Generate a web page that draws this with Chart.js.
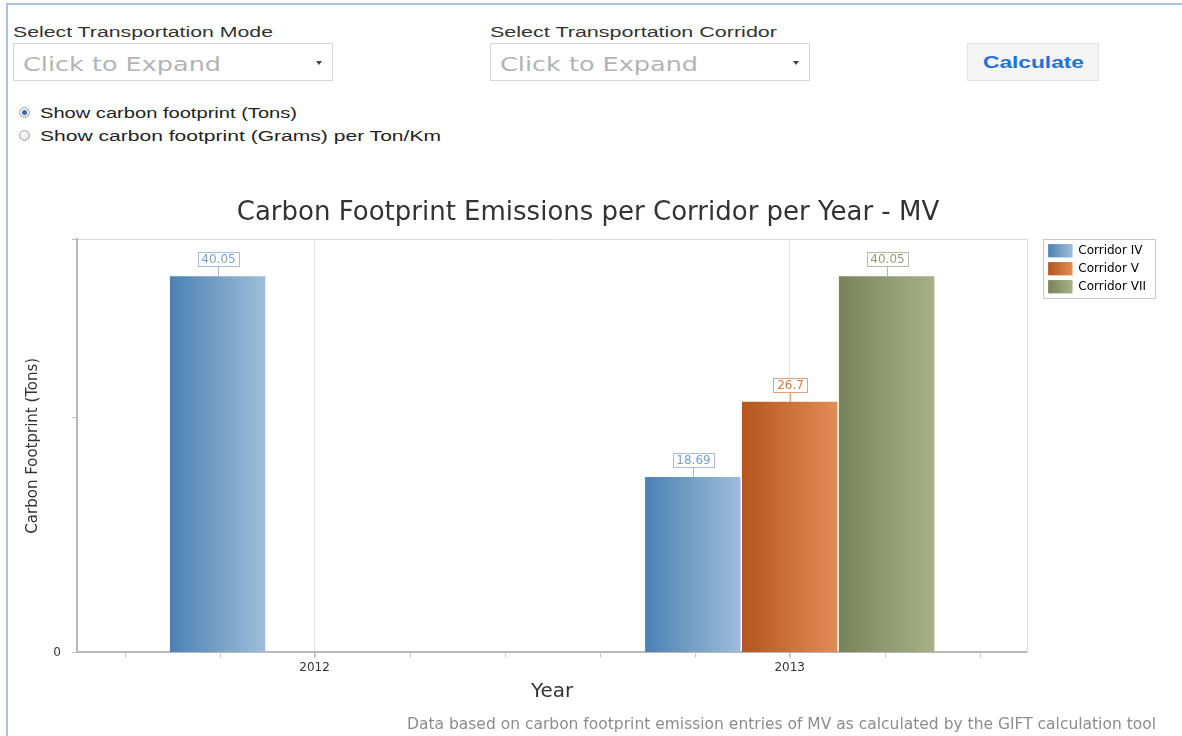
<!DOCTYPE html>
<html>
<head>
<meta charset="utf-8">
<script src="https://cdn.jsdelivr.net/npm/chart.js@4.4.1/dist/chart.umd.min.js"></script>
<style>
html, body { margin: 0; padding: 0; background: #fff; width: 1182px; height: 736px; overflow: hidden;
  font-family: 'Liberation Sans', Arial, sans-serif; }
#frame { position: absolute; left: 6px; top: 3px; right: -4px; bottom: -4px;
  border-top: 2px solid #a9c2e4; border-left: 2px solid #a9c2e4; }
.fit { position: absolute; white-space: nowrap; transform-origin: 0 0; line-height: 1; }
.lbl { font-size: 15.5px; color: #333; }
.sel { position: absolute; top: 43px; width: 320px; height: 38px; box-sizing: border-box;
  border: 1px solid #d4d4d4; background: #fff; }
.ph { font-family: 'DejaVu Sans'; font-size: 19px; color: #b4b4b4; top: 10.5px; left: 9px; }
.caret { position: absolute; left: 302px; top: 17px; width: 0; height: 0;
  border-left: 3px solid transparent; border-right: 3px solid transparent; border-top: 4px solid #444; }
.btn { position: absolute; left: 967px; top: 43px; width: 132px; height: 38px; box-sizing: border-box;
  border: 1px solid #e2e2e2; background: #f5f5f5; }
.btn span { font-weight: bold; font-size: 17px; color: #1f72d6; left: 15px; top: 9.5px; }
.radio { position: absolute; left: 19px; width: 9px; height: 9px; border-radius: 50%;
  border: 1px solid #a6a6a6; background: radial-gradient(circle at 40% 35%, #fff, #d6d6d6); }
.radio.on::after { content: ''; position: absolute; left: 2px; top: 2px; width: 5px; height: 5px;
  border-radius: 50%; background: #3b6fa6; }
.rtxt { font-size: 15.5px; color: #222; left: 40px; }
#chartBox { position: absolute; left: 10px; top: 185px; width: 1172px; height: 551px; }
</style>
</head>
<body>
<div id="frame"></div>

<span class="fit lbl" data-w="260" style="left:13px;top:24px">Select Transportation Mode</span>
<div class="sel" style="left:13px"><span class="fit ph" data-w="198">Click to Expand</span><span class="caret"></span></div>

<span class="fit lbl" data-w="287" style="left:490px;top:24px">Select Transportation Corridor</span>
<div class="sel" style="left:490px"><span class="fit ph" data-w="198">Click to Expand</span><span class="caret"></span></div>

<div class="btn"><span class="fit" data-w="101">Calculate</span></div>

<span class="radio on" style="top:107px"></span>
<span class="fit rtxt" data-w="257" style="top:105px">Show carbon footprint (Tons)</span>
<span class="radio" style="top:130px"></span>
<span class="fit rtxt" data-w="401" style="top:128px">Show carbon footprint (Grams) per Ton/Km</span>

<div id="chartBox"><canvas id="chart" width="1172" height="551"></canvas></div>

<script>
// squeeze/stretch the form texts to the widths seen in the screenshot
document.querySelectorAll('.fit[data-w]').forEach(el => {
    const w = el.getBoundingClientRect().width;
    el.style.transform = 'scaleX(' + (parseFloat(el.dataset.w) / w) + ')';
});

// ---- data ----
const years = ['2012', '2013'];
const corridorNames = ['Corridor IV', 'Corridor V', 'Corridor VII'];
const corridorIV = [40.05, 18.69];
const corridorV = [null, 26.7];
const corridorVII = [null, 40.05];
const yMax = 44;
const yStep = 25;

// left -> right gradient per corridor, plus label box colours
const shades = [
    { dark: '#4b82b3', light: '#9ebdda', mid: '#74a0c8', text: '#7ba0c6', edge: '#a4bed9' },
    { dark: '#b3561f', light: '#e38c55', mid: '#cc713a', text: '#d27a45', edge: '#e0a27e' },
    { dark: '#78835a', light: '#a9b088', mid: '#8f9870', text: '#949b76', edge: '#b4ba9c' }
];

Chart.defaults.font.family = "'DejaVu Sans', Verdana, sans-serif";
Chart.defaults.color = '#333';

function barFill(c) {
    const s = shades[c.datasetIndex];
    if (c.dataIndex === undefined) return s.mid;
    const el = c.chart.getDatasetMeta(c.datasetIndex).data[c.dataIndex];
    if (!el || !el.width) return s.mid;
    const g = c.chart.ctx.createLinearGradient(el.x - el.width / 2, 0, el.x + el.width / 2, 0);
    g.addColorStop(0, s.dark);
    g.addColorStop(1, s.light);
    return g;
}

function series(i, values) {
    return {
        label: corridorNames[i],
        data: values,
        backgroundColor: barFill,
        hoverBackgroundColor: barFill,
        borderWidth: 0,
        categoryPercentage: 0.612,
        barPercentage: 0.985
    };
}

// boxed value above each bar, with a short stem
const valueBoxes = {
    id: 'valueBoxes',
    afterDatasetsDraw(chart) {
        const ctx = chart.ctx;
        ctx.save();
        ctx.font = "12px 'DejaVu Sans'";
        ctx.textAlign = 'center';
        ctx.textBaseline = 'middle';
        chart.data.datasets.forEach((ds, di) => {
            const s = shades[di];
            chart.getDatasetMeta(di).data.forEach((bar, i) => {
                const v = ds.data[i];
                if (v === null || v === undefined) return;
                const txt = String(v);
                const w = Math.round(ctx.measureText(txt).width) + 7;
                const h = 14;
                const x = Math.round(bar.x);
                const top = Math.round(bar.y) - 10 - h;
                const left = Math.round(x - w / 2);
                ctx.fillStyle = '#fff';
                ctx.fillRect(left, top, w, h);
                ctx.strokeStyle = s.edge;
                ctx.lineWidth = 1;
                ctx.strokeRect(left + 0.5, top + 0.5, w, h);
                ctx.beginPath();
                ctx.moveTo(x + 0.5, top + h + 0.5);
                ctx.lineTo(x + 0.5, Math.round(bar.y));
                ctx.stroke();
                ctx.fillStyle = s.text;
                ctx.fillText(txt, x + 0.5, top + h / 2 + 1);
            });
        });
        ctx.restore();
    }
};

// small ticks between categories + legend frame and gradient swatches
const extras = {
    id: 'extras',
    afterDraw(chart) {
        const ctx = chart.ctx;
        const a = chart.chartArea;
        ctx.save();
        ctx.strokeStyle = '#c6c6c6';
        ctx.lineWidth = 1;
        for (let k = 0; k < 10; k++) {
            const x = Math.round(a.left + (k + 0.5) * (a.right - a.left) / 10) + 0.5;
            ctx.beginPath();
            ctx.moveTo(x, a.bottom + 1);
            ctx.lineTo(x, a.bottom + 5);
            ctx.stroke();
        }
        const lg = chart.legend;
        if (lg && lg.legendHitBoxes) {
            lg.legendHitBoxes.forEach((hb, i) => {
                const s = shades[i];
                const g = ctx.createLinearGradient(hb.left, 0, hb.left + 24, 0);
                g.addColorStop(0, s.dark);
                g.addColorStop(1, s.light);
                ctx.fillStyle = g;
                ctx.fillRect(hb.left, hb.top, 24, 13);
            });
            const last = lg.legendHitBoxes[lg.legendHitBoxes.length - 1];
            ctx.strokeStyle = '#c9c9c9';
            ctx.strokeRect(Math.round(lg.left) + 0.5, Math.round(lg.top) + 0.5,
                Math.round(lg.width) - 1, Math.round(last.top + last.height + 5 - lg.top));
        }
        ctx.restore();
    }
};

const chart = new Chart(document.getElementById('chart'), {
    type: 'bar',
    data: {
        labels: years,
        datasets: [
            series(0, corridorIV),
            series(1, corridorV),
            series(2, corridorVII)
        ]
    },
    options: {
        responsive: false,
        animation: false,
        layout: { padding: { left: 10, right: 26, top: 0, bottom: 0 } },
        plugins: {
            colors: { enabled: false },
            title: {
                display: true,
                text: 'Carbon Footprint Emissions per Corridor per Year - MV',
                font: { size: 26, weight: 'normal' },
                color: '#333',
                padding: { top: 13, bottom: 10 }
            },
            subtitle: {
                display: true,
                position: 'bottom',
                align: 'end',
                text: 'Data based on carbon footprint emission entries of MV as calculated by the GIFT calculation tool',
                font: { size: 15.5 },
                color: '#8c8c8c',
                padding: { top: 3, bottom: 2 }
            },
            legend: {
                position: 'right',
                align: 'start',
                fullSize: false,
                labels: {
                    boxWidth: 24,
                    boxHeight: 13,
                    padding: 5,
                    font: { size: 12 },
                    color: '#3a3a3a',
                    generateLabels: () => corridorNames.map((n, i) => ({
                        text: n, fillStyle: shades[i].mid, lineWidth: 0, datasetIndex: i, hidden: false
                    }))
                }
            },
            tooltip: { enabled: false }
        },
        scales: {
            x: {
                grid: { offset: false, color: '#e3e3e3', tickColor: '#bdbdbd', tickLength: 5 },
                border: { color: '#b8b8b8', width: 2 },
                ticks: { font: { size: 12 }, color: '#333', padding: 3 },
                title: { display: true, text: 'Year', font: { size: 20 }, color: '#333', padding: { top: 0, bottom: 9 } },
                afterFit(s) { s.height = 60; }
            },
            y: {
                min: 0,
                max: yMax,
                ticks: {
                    stepSize: yStep,
                    font: { size: 12 },
                    color: '#333',
                    padding: 11,
                    callback: v => (v === 0 ? '0' : '')
                },
                grid: {
                    color: c => (c.tick && c.tick.value === yMax ? '#dcdcdc' : 'transparent'),
                    tickColor: '#bdbdbd',
                    tickLength: 5
                },
                border: { color: '#b8b8b8', width: 2 },
                title: {
                    display: true,
                    text: 'Carbon Footprint (Tons)',
                    font: { family: "'DejaVu Sans Condensed', 'DejaVu Sans'", size: 16.7 },
                    color: '#333',
                    padding: { top: 3, bottom: 0 }
                },
                afterFit(s) { s.width = 57; }
            },
            yEdge: {
                type: 'linear',
                position: 'right',
                grid: { display: true, drawOnChartArea: false, drawTicks: false, color: 'transparent' },
                ticks: { display: false },
                border: { display: true, color: '#dadada', width: 1 },
                afterFit(s) { s.width = 16; }
            }
        }
    },
    plugins: [valueBoxes, extras]
});
// second pass so the bar gradients can follow the laid-out bars
chart.update('none');
</script>
</body>
</html>
